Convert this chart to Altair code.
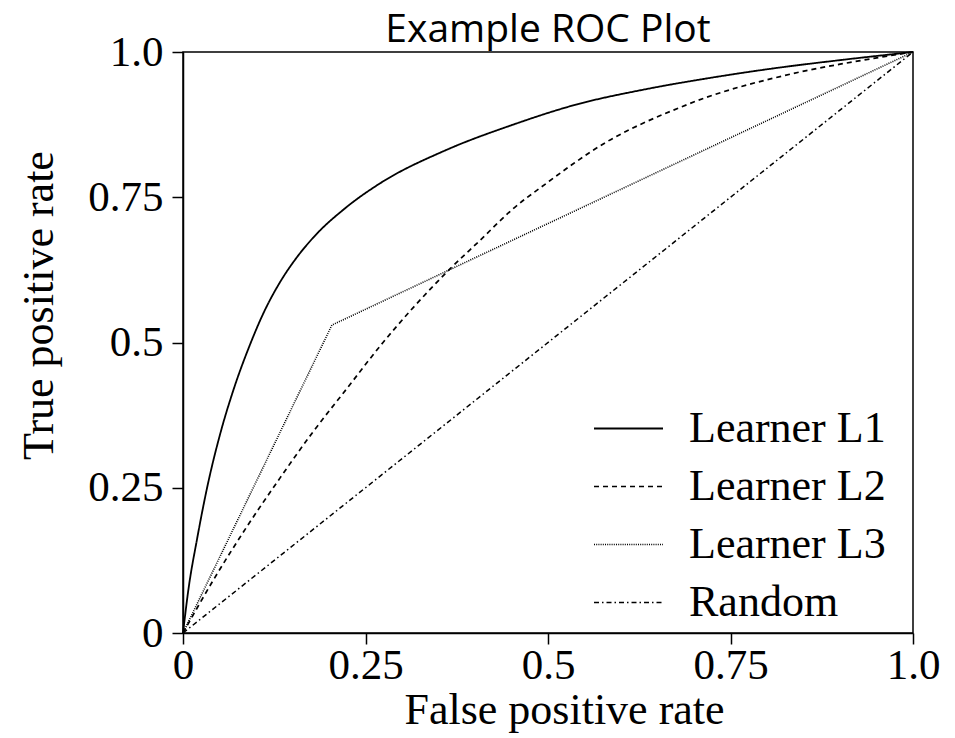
import altair as alt
import pandas as pd

# ROC curves: false positive rate (x) vs true positive rate (y)
series_names = ["Learner L1", "Learner L2", "Learner L3", "Random"]

fpr_l1 = [0, 0.008, 0.019, 0.033, 0.051, 0.069, 0.092, 0.11, 0.133, 0.155,
          0.178, 0.224, 0.27, 0.36, 0.45, 0.54, 0.63, 0.72, 0.81, 0.90, 1.0]
tpr_l1 = [0, 0.08, 0.16, 0.25, 0.343, 0.418, 0.497, 0.55, 0.604, 0.645,
          0.68, 0.733, 0.774, 0.831, 0.874, 0.91, 0.935, 0.955, 0.972, 0.986, 1.0]

fpr_l2 = [0, 0.042, 0.087, 0.133, 0.178, 0.224, 0.274, 0.316, 0.366, 0.407,
          0.452, 0.50, 0.535, 0.58, 0.626, 0.672, 0.717, 0.763, 0.809, 0.854,
          0.90, 0.946, 1.0]
tpr_l2 = [0, 0.092, 0.182, 0.267, 0.346, 0.42, 0.5, 0.561, 0.627, 0.676,
          0.73, 0.776, 0.808, 0.845, 0.875, 0.90, 0.922, 0.94, 0.955, 0.968,
          0.979, 0.989, 1.0]

fpr_l3 = [0, 0.204, 1.0]
tpr_l3 = [0, 0.53, 1.0]

fpr_rand = [0, 1.0]
tpr_rand = [0, 1.0]

tick_values = [0, 0.25, 0.5, 0.75, 1.0]
tick_labels = ["0", "0.25", "0.5", "0.75", "1.0"]

dash_patterns = [[1, 0], [5, 4], [1, 1.2], [5, 3, 1.5, 3]]
line_widths = [1.8, 1.5, 1.0, 1.4]


def frame(name, xs, ys):
    return pd.DataFrame({"fpr": xs, "tpr": ys, "learner": name})


smooth_df = pd.concat([frame("Learner L1", fpr_l1, tpr_l1),
                       frame("Learner L2", fpr_l2, tpr_l2)])
straight_df = pd.concat([frame("Learner L3", fpr_l3, tpr_l3),
                         frame("Random", fpr_rand, tpr_rand)])

label_expr = " : ".join(
    f"datum.value == {v} ? '{t}'" for v, t in zip(tick_values, tick_labels)
) + " : ''"

x_enc = alt.X(
    "fpr:Q",
    scale=alt.Scale(domain=[0, 1], nice=False, zero=False),
    axis=alt.Axis(
        values=tick_values, labelExpr=label_expr, title="False positive rate",
        labelAlign="center", labelBaseline="top", labelPadding=0,
        titleX=381, titleY=90, titleBaseline="alphabetic", titleAlign="center",
    ),
)
y_enc = alt.Y(
    "tpr:Q",
    scale=alt.Scale(domain=[0, 1], nice=False, zero=False),
    axis=alt.Axis(
        values=tick_values, labelExpr=label_expr, title="True positive rate",
        labelAlign="right", labelBaseline="middle", labelPadding=9,
        titleX=-131, titleY=253, titleBaseline="alphabetic", titleAlign="center",
        titleAngle=270,
    ),
)
dash_enc = alt.StrokeDash(
    "learner:N",
    scale=alt.Scale(domain=series_names, range=dash_patterns),
    legend=alt.Legend(title=None, orient="none", legendX=410, legendY=341),
)
width_enc = alt.StrokeWidth(
    "learner:N",
    scale=alt.Scale(domain=series_names, range=line_widths),
    legend=None,
)

smooth = alt.Chart(smooth_df).mark_line(
    interpolate="monotone", color="black"
).encode(x=x_enc, y=y_enc, strokeDash=dash_enc, strokeWidth=width_enc, order="fpr:Q")

straight = alt.Chart(straight_df).mark_line(
    interpolate="linear", color="black"
).encode(x=x_enc, y=y_enc, strokeDash=dash_enc, strokeWidth=width_enc, order="fpr:Q")

chart = (
    alt.layer(smooth, straight)
    .properties(
        width=730,
        height=581,
        autosize=alt.AutoSizeParams(type="none"),
        padding={"left": 183, "top": 52, "right": 42, "bottom": 105},
        title=alt.TitleParams(
            "Example ROC Plot", font="Open Sans", fontSize=39,
            fontWeight="normal", color="black", anchor="middle", offset=-19,
        ),
    )
    .configure_view(stroke="black", strokeWidth=1.5)
    .configure_axis(
        grid=False,
        labelFont="Liberation Serif", labelFontSize=43, labelColor="black",
        labelFlush=False, labelOverlap=False,
        titleFont="Liberation Serif", titleFontSize=44, titleFontWeight="normal",
        titleColor="black",
        domainColor="black", domainWidth=1.5,
        tickColor="black", tickWidth=1.5, tickSize=11,
    )
    .configure_legend(
        symbolType="stroke", symbolSize=4761, symbolStrokeWidth=1.3,
        symbolStrokeColor="black", labelFont="Liberation Serif",
        labelFontSize=44, labelColor="black", labelOffset=25, labelLimit=400,
        rowPadding=-12,
    )
)

chart.save("out.html", embed_options={"renderer": "svg", "actions": False})
